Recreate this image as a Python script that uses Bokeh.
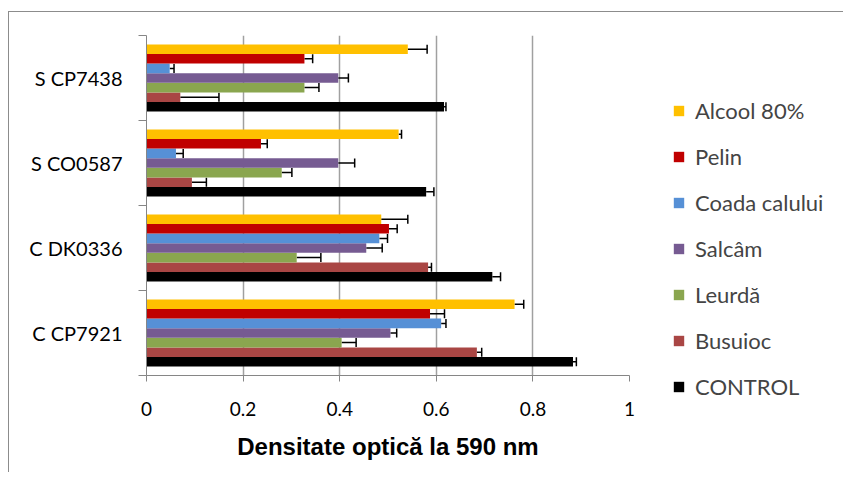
from bokeh.plotting import figure
from bokeh.layouts import row
from bokeh.models import (ColumnDataSource, FixedTicker, Whisker, TeeHead,
                          Legend, LegendItem)
from bokeh.embed import file_html
from bokeh.resources import INLINE

# Categories, bottom to top
categories = ["C CP7921", "C DK0336", "S CO0587", "S CP7438"]

# Series, bottom bar to top bar in each group
series = ["CONTROL", "Busuioc", "Leurdă", "Salcâm", "Coada calului", "Pelin", "Alcool 80%"]
colors = ["#000000", "#A94644", "#8AA64F", "#765B92", "#5690D6", "#C00000", "#FFC000"]

control = [0.883, 0.716, 0.579, 0.616]
control_err = [0.007, 0.017, 0.016, 0.004]
busuioc = [0.684, 0.583, 0.094, 0.070]
busuioc_err = [0.010, 0.007, 0.030, 0.080]
leurda = [0.404, 0.311, 0.280, 0.327]
leurda_err = [0.030, 0.050, 0.021, 0.030]
salcam = [0.505, 0.455, 0.397, 0.397]
salcam_err = [0.013, 0.033, 0.034, 0.021]
coada = [0.610, 0.482, 0.061, 0.048]
coada_err = [0.010, 0.017, 0.015, 0.009]
pelin = [0.587, 0.502, 0.237, 0.327]
pelin_err = [0.030, 0.017, 0.013, 0.017]
alcool = [0.762, 0.486, 0.522, 0.541]
alcool_err = [0.019, 0.055, 0.006, 0.040]

values = [control, busuioc, leurda, salcam, coada, pelin, alcool]
errors = [control_err, busuioc_err, leurda_err, salcam_err, coada_err, pelin_err, alcool_err]

x_ticks = [0, 0.2, 0.4, 0.6, 0.8, 1]
x_tick_labels = {0: "0", 0.2: "0.2", 0.4: "0.4", 0.6: "0.6", 0.8: "0.8", 1: "1"}

BAR_H = 0.113
H = 460

p = figure(width=630, height=H, x_range=(0, 1), y_range=(0, len(categories)),
           output_backend="svg", toolbar_location=None,
           min_border_left=137, min_border_right=10, min_border_top=23,
           min_border_bottom=97)
p.outline_line_color = None
p.background_fill_color = "white"
p.border_fill_color = "white"

# Legend panel figure; its x range lies away from the data so its copies stay out of view
lf = figure(width=204, height=H, x_range=(-3, -2), y_range=(0, len(categories)),
            output_backend="svg", toolbar_location=None,
            x_axis_type=None, y_axis_type=None, frame_align=False,
            min_border_left=0, min_border_right=0, min_border_top=0, min_border_bottom=0)
lf.outline_line_color = None
lf.grid.grid_line_color = None

items = []
n = len(series)
for si, (name, col, vals, errs) in enumerate(zip(series, colors, values, errors)):
    ys = [ci + 0.5 + (si - (n - 1) / 2) * BAR_H for ci in range(len(categories))]
    src = ColumnDataSource(dict(y=ys, v=vals, lo=vals, hi=[a + b for a, b in zip(vals, errs)]))
    p.hbar(y="y", right="v", left=0, height=BAR_H, source=src,
           fill_color=col, line_color=None)
    w = Whisker(base="y", lower="lo", upper="hi", dimension="width", source=src,
                line_color="black", line_width=1.5, lower_head=None,
                upper_head=TeeHead(size=9, line_color="black", line_width=1.5))
    p.add_layout(w)
    r = lf.hbar(y="y", right="v", left=0, height=BAR_H, source=src,
                fill_color=col, line_color=None)
    items.append(LegendItem(label=name, renderers=[r]))

# x axis
xa = p.xaxis[0]
xa.ticker = FixedTicker(ticks=x_ticks)
xa.major_label_overrides = x_tick_labels
xa.major_label_text_font = "Lato"
xa.major_label_text_font_size = "19px"
xa.major_label_text_color = "black"
xa.major_label_standoff = 20
xa.axis_line_color = "#868686"
xa.major_tick_line_color = "#868686"
xa.major_tick_out = 6
xa.major_tick_in = 0
xa.minor_tick_line_color = None
xa.axis_label = "Densitate optică la 590 nm"
xa.axis_label_text_font = "Liberation Sans"
xa.axis_label_text_font_style = "bold"
xa.axis_label_text_font_size = "24px"
xa.axis_label_text_color = "black"
xa.axis_label_standoff = 14

# y axis: labels at category centers, ticks at category boundaries
ya = p.yaxis[0]
centers = [i + 0.5 for i in range(len(categories))]
ya.ticker = FixedTicker(ticks=centers, minor_ticks=list(range(len(categories) + 1)))
ya.major_label_overrides = {c: lab for c, lab in zip(centers, categories)}
ya.major_label_text_font = "Lato"
ya.major_label_text_font_size = "20px"
ya.major_label_text_color = "black"
ya.major_label_standoff = 16
ya.major_tick_line_color = None
ya.minor_tick_line_color = "#868686"
ya.minor_tick_out = 8
ya.minor_tick_in = 0
ya.axis_line_color = "#868686"

p.xgrid.ticker = FixedTicker(ticks=x_ticks[1:])
p.xgrid.grid_line_color = "#A0A0A0"
p.xgrid.grid_line_width = 1.5
p.ygrid.grid_line_color = None

legend = Legend(items=list(reversed(items)), location=(33, 72),
                glyph_width=13, glyph_height=13, label_height=26, spacing=19,
                label_text_font="Lato", label_text_font_size="22px",
                label_standoff=10, padding=10, margin=0,
                border_line_color=None, background_fill_alpha=0)
lf.add_layout(legend, "center")

layout = row(p, lf, margin=(11, 0, 0, 8),
             styles={"border-left": "1px solid #8c8c8c", "border-top": "1px solid #8c8c8c"})

open("out.html", "w").write(file_html(layout, INLINE))
